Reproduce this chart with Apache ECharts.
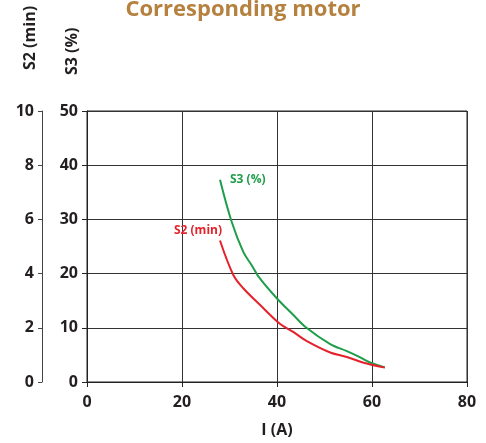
<!DOCTYPE html>
<html><head><meta charset="utf-8">
<script src="https://cdn.jsdelivr.net/npm/echarts@6/dist/echarts.min.js"></script>
<style>html,body{margin:0;padding:0;background:#fff}#c{width:486px;height:443px}</style>
</head><body><div id="c"></div>
<script>
var xTicks = [0, 20, 40, 60, 80];
var s3Ticks = [0, 10, 20, 30, 40, 50];
var s2Ticks = [0, 2, 4, 6, 8, 10];
var s3Current = [28, 30.4, 32.9, 34.7, 36.4, 39.9, 43.4, 46.2, 51.2, 54.7, 57.2, 59.6, 62.7];
var s3Values = [37.3, 29.7, 24.0, 21.5, 19.1, 15.5, 12.4, 10.0, 7.0, 5.7, 4.7, 3.6, 2.7];
var s2Current = [28, 30.8, 32.9, 36.4, 40.6, 43.4, 46.2, 51.2, 54.7, 58.9, 62.7];
var s2Values = [5.22, 3.95, 3.46, 2.85, 2.15, 1.85, 1.52, 1.09, 0.92, 0.68, 0.53];

var FONT = 'Open Sans';
var DARK = '#231f20';
var GREEN = '#1e9e4a';
var RED = '#e5222b';

function pairs(xs, ys, labelOpt) {
  return xs.map(function (x, i) {
    var d = { value: [x, ys[i]] };
    if (i === 0) d.label = labelOpt;
    return d;
  });
}

var chart = echarts.init(document.getElementById('c'), null, { renderer: 'canvas' });
chart.setOption({
  animation: false,
  title: {
    text: 'Corresponding motor', left: 'center', top: -6,
    textStyle: { fontFamily: FONT, fontWeight: 'bold', fontSize: 22, color: '#b5813f' }
  },
  grid: { left: 87, top: 111, width: 380, height: 274, show: true, borderColor: '#222', borderWidth: 1, backgroundColor: 'transparent' },
  xAxis: {
    type: 'value', min: 0, max: 80, interval: 20,
    name: 'I (A)', nameLocation: 'middle', nameGap: 40,
    nameTextStyle: { fontFamily: FONT, fontWeight: 'bold', fontSize: 16, color: DARK },
    axisLine: { show: true, lineStyle: { color: '#222', width: 1 } },
    axisTick: { show: true, length: 5, lineStyle: { color: '#222' } },
    axisLabel: { margin: 12, fontFamily: FONT, fontWeight: 'bold', fontSize: 16, color: DARK },
    splitLine: { show: true, lineStyle: { color: '#333', width: 1 } }
  },
  yAxis: [{
    type: 'value', min: 0, max: 50, interval: 10, position: 'left', offset: 0,
    name: 'S3 (%)', nameLocation: 'end', nameRotate: 90, nameGap: 36,
    nameTextStyle: { fontFamily: FONT, fontWeight: 'bold', fontSize: 16, color: DARK, align: 'left', verticalAlign: 'bottom', lineHeight: 18, padding: [0, 0, 6, 0] },
    axisLine: { show: true, lineStyle: { color: '#222', width: 1 } },
    axisTick: { show: true, length: 5, lineStyle: { color: '#222' } },
    axisLabel: { margin: 9, fontFamily: FONT, fontWeight: 'bold', fontSize: 16, color: DARK },
    splitLine: { show: true, lineStyle: { color: '#333', width: 1 } }
  }, {
    type: 'value', min: 0, max: 10, interval: 2, position: 'left', offset: 45,
    name: 'S2 (min)', nameLocation: 'end', nameRotate: 90, nameGap: 41,
    nameTextStyle: { fontFamily: FONT, fontWeight: 'bold', fontSize: 16, color: DARK, align: 'left', verticalAlign: 'bottom', lineHeight: 18, padding: [0, 0, 3, 0] },
    axisLine: { show: true, lineStyle: { color: '#444', width: 1 } },
    axisTick: { show: true, length: 4, lineStyle: { color: '#444' } },
    axisLabel: { margin: 8, fontFamily: FONT, fontWeight: 'bold', fontSize: 16, color: DARK },
    splitLine: { show: false }
  }],
  series: [{
    name: 'S3 (%)', type: 'line', yAxisIndex: 0, smooth: 0.35, symbol: 'circle', symbolSize: 0.01, showSymbol: true,
    itemStyle: { color: GREEN },
    lineStyle: { color: GREEN, width: 2 },
    label: { show: false },
    data: pairs(s3Current, s3Values, {
      show: true, formatter: 'S3 (%)', position: 'right', offset: [5, 0],
      fontFamily: FONT, fontWeight: 'bold', fontSize: 12, color: GREEN
    })
  }, {
    name: 'S2 (min)', type: 'line', yAxisIndex: 1, smooth: 0.35, symbol: 'circle', symbolSize: 0.01, showSymbol: true,
    itemStyle: { color: RED },
    lineStyle: { color: RED, width: 2 },
    label: { show: false },
    data: pairs(s2Current, s2Values, {
      show: true, formatter: 'S2 (min)', position: 'left', offset: [7, -10],
      fontFamily: FONT, fontWeight: 'bold', fontSize: 12, color: RED
    })
  }]
});
</script></body></html>
